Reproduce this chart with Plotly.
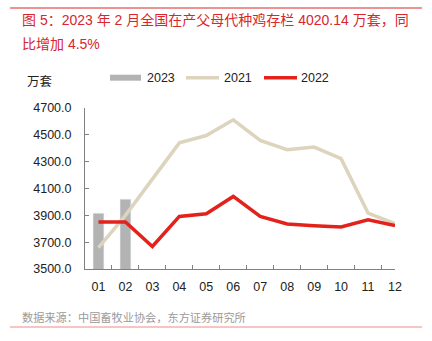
import plotly.graph_objects as go

months = ["01", "02", "03", "04", "05", "06", "07", "08", "09", "10", "11", "12"]
v2023 = [3915, 4020.14]
v2021 = [3660, 3900, 4170, 4440, 4495, 4612, 4458, 4389, 4409, 4322, 3917, 3838]
v2022 = [3850, 3850, 3668, 3892, 3912, 4041, 3892, 3835, 3823, 3813, 3867, 3823]
yticks = [3500, 3700, 3900, 4100, 4300, 4500, 4700]

c2023 = "#b3b3b3"
c2021 = "#ddd4be"
c2022 = "#e3221c"
cred = "#d9262c"
FONT = "Liberation Sans, Arial, Noto Sans CJK SC, sans-serif"

fig = go.Figure()
fig.add_trace(go.Bar(x=months[:len(v2023)], y=v2023, name="2023", marker_color=c2023,
                     width=0.4, showlegend=False))
fig.add_trace(go.Scatter(x=months, y=v2021, name="2021", mode="lines",
                         line=dict(color=c2021, width=3.5), showlegend=False))
fig.add_trace(go.Scatter(x=months, y=v2022, name="2022", mode="lines",
                         line=dict(color=c2022, width=3.5), showlegend=False))

L, R, T, B = 85, 37, 108, 72
W, H = 432, 341
pw, ph = W - L - R, H - T - B

def px(x):
    return (x - L) / pw

def py(y):
    return (H - B - y) / ph

fig.update_layout(
    width=W, height=H,
    margin=dict(l=L, r=R, t=T, b=B),
    paper_bgcolor="white", plot_bgcolor="white",
    font=dict(family=FONT, size=12.5, color="#222"),
    xaxis=dict(type="category", tickson="boundaries", ticks="inside", ticklen=4,
               tickcolor="#808080", showline=True, linecolor="#808080", linewidth=1,
               showgrid=False, tickfont=dict(size=12.5, color="#222"),
               ticklabelstandoff=6),
    yaxis=dict(range=[3500, 4700], tickvals=yticks, tickformat=".1f", ticks="inside",
               ticklen=4, tickcolor="#808080", showline=True, linecolor="#808080",
               linewidth=1, showgrid=False, zeroline=False,
               tickfont=dict(size=12.5, color="#222"), ticklabelstandoff=10),
    showlegend=False,
)

ann = []
ann.append(dict(text="图 5：2023 年 2 月全国在产父母代种鸡存栏 4020.14 万套，同", x=px(20), y=py(20),
                xref="paper", yref="paper", xanchor="left", yanchor="middle", showarrow=False,
                font=dict(size=14, color=cred, family=FONT)))
ann.append(dict(text="比增加 4.5%", x=px(20), y=py(43.5),
                xref="paper", yref="paper", xanchor="left", yanchor="middle", showarrow=False,
                font=dict(size=14, color=cred, family=FONT)))
ann.append(dict(text="万套", x=px(25), y=py(82), xref="paper", yref="paper",
                xanchor="left", yanchor="middle", showarrow=False,
                font=dict(size=12.5, color="#222", family=FONT)))
ann.append(dict(text="数据来源：中国畜牧业协会，东方证券研究所", x=px(20), y=py(317),
                xref="paper", yref="paper", xanchor="left", yanchor="middle", showarrow=False,
                font=dict(size=11.2, color="#9a9a9a", family=FONT)))

shapes = []
shapes.append(dict(type="line", xref="paper", yref="paper", x0=px(10), x1=px(422),
                   y0=py(8), y1=py(8), line=dict(color=cred, width=1)))
shapes.append(dict(type="line", xref="paper", yref="paper", x0=px(10), x1=px(422),
                   y0=py(327), y1=py(327), line=dict(color="#f08a8a", width=1)))

# legend
leg = [("2023", c2023, "bar", 110, 141, 145),
       ("2021", c2021, "line", 186, 219, 222),
       ("2022", c2022, "line", 264, 297, 299)]
ly = 77.7
for name, col, kind, x0, x1, tx in leg:
    if kind == "bar":
        shapes.append(dict(type="rect", xref="paper", yref="paper", x0=px(x0), x1=px(x1),
                           y0=py(ly + 3), y1=py(ly - 3), fillcolor=col, line=dict(width=0)))
    else:
        shapes.append(dict(type="line", xref="paper", yref="paper", x0=px(x0), x1=px(x1),
                           y0=py(ly), y1=py(ly), line=dict(color=col, width=3.5)))
    ann.append(dict(text=name, x=px(tx), y=py(ly), xref="paper", yref="paper",
                    xanchor="left", yanchor="middle", showarrow=False,
                    font=dict(size=12.5, color="#222", family=FONT)))

fig.update_layout(annotations=ann, shapes=shapes)
fig.write_html("out.html")
